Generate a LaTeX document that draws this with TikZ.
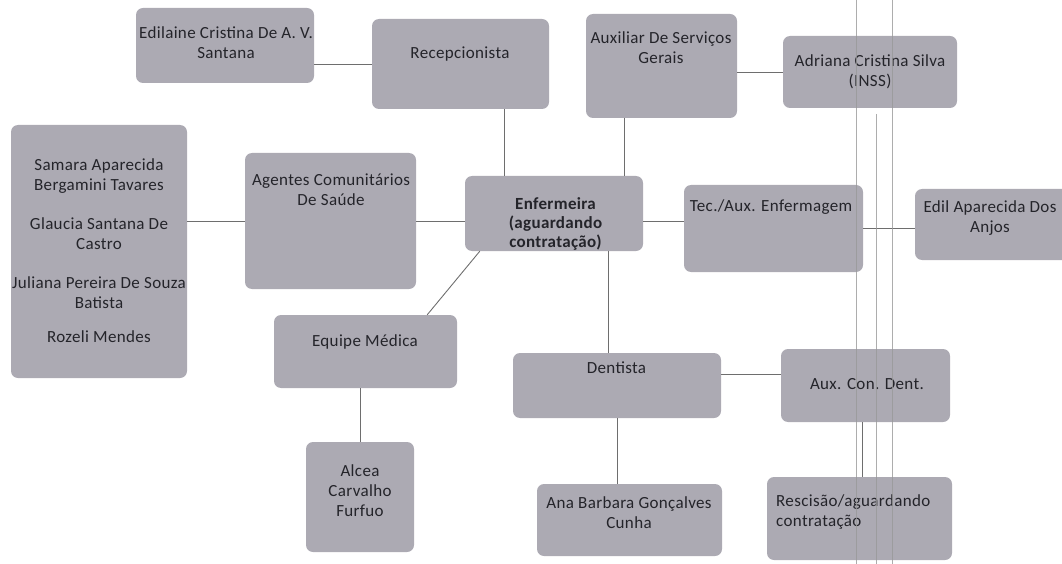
\documentclass[tikz,border=0pt]{standalone}
\usepackage{fontspec}
\setmainfont{Carlito}[LetterSpace=2]
\definecolor{boxgray}{RGB}{172,170,179}
\definecolor{txtgray}{RGB}{36,36,42}
\definecolor{linegray}{RGB}{110,110,110}
\begin{document}
\begin{tikzpicture}[x=1pt,y=-1pt,
  box/.style={rectangle, rounded corners=7pt, fill=boxgray, inner sep=0pt},
  txt/.style={font=\fontsize{17}{20}\selectfont, text=txtgray, align=center, inner sep=0pt},
  link/.style={draw=linegray, line width=0.9pt},
  scanline/.style={draw=gray!80, line width=0.8pt, opacity=0.8}]
\useasboundingbox (0,0) rectangle (1062,564);
	\node[box, minimum width=178pt, minimum height=75pt] (edi) at (225,45.5) {};
	\node[box, minimum width=177pt, minimum height=90pt] (rec) at (460.5,64) {};
	\node[box, minimum width=151pt, minimum height=104pt] (aux) at (661.5,66) {};
	\node[box, minimum width=174pt, minimum height=72pt] (adr) at (870,72) {};
	\node[box, minimum width=176pt, minimum height=253pt] (sam) at (99,251.5) {};
	\node[box, minimum width=171pt, minimum height=136pt] (age) at (330.5,221) {};
	\node[box, minimum width=178pt, minimum height=75pt] (enf) at (554,213.5) {};
	\node[box, minimum width=179pt, minimum height=87pt] (tec) at (773.5,228.5) {};
	\node[box, minimum width=165pt, minimum height=71pt] (edil) at (997.5,224.5) {};
	\node[box, minimum width=183pt, minimum height=73pt] (equ) at (365.5,351.5) {};
	\node[box, minimum width=108pt, minimum height=110pt] (alc) at (360,497) {};
	\node[box, minimum width=208pt, minimum height=65pt] (den) at (617,385.5) {};
	\node[box, minimum width=169pt, minimum height=73pt] (acd) at (865.5,385.5) {};
	\node[box, minimum width=185pt, minimum height=72pt] (ana) at (629.5,520) {};
	\node[box, minimum width=185pt, minimum height=83pt] (res) at (859.5,518.5) {};
	\node[txt] (ediT) at (226,43) {Edilaine Cristina De A. V.\\Santana};
	\node[txt] (recT) at (460,54) {Recepcionista};
	\node[txt] (auxT) at (661,48) {Auxiliar De Serviços\\Gerais};
	\node[txt] (adrT) at (870,72) {Adriana Cristina Silva\\(INSS)};
	\node[txt] (samT) at (99,251) {Samara Aparecida\\Bergamini Tavares\\[19pt]Glaucia Santana De\\Castro\\[19pt]Juliana Pereira De Souza\\Batista\\[14pt]Rozeli Mendes};
	\node[txt] (ageT) at (331,189.5) {Agentes Comunitários\\De Saúde};
	\node[txt, font=\fontsize{17}{19}\selectfont\bfseries] (enfT) at (555.5,224) {Enfermeira\\(aguardando\\contratação)};
	\node[txt] (tecT) at (771,207) {Tec./Aux. Enfermagem};
	\node[txt] (edilT) at (990,218) {Edil Aparecida Dos\\Anjos};
	\node[txt] (equT) at (365,342) {Equipe Médica};
	\node[txt] (alcT) at (360,491) {Alcea\\Carvalho\\Furfuo};
	\node[txt] (denT) at (616.5,368) {Dentista};
	\node[txt] (acdT) at (867,384) {Aux. Con. Dent.};
	\node[txt] (anaT) at (629,512.5) {Ana Barbara Gonçalves\\Cunha};
	\node[txt, anchor=west, align=left] (resT) at (776,512.5) {Rescisão/aguardando\\contratação};
	\draw[link] (rec.west) -- (rec.west -| edi.east);
	\draw[link] ([xshift=-50]enf.north) -- ([xshift=-50]enf.north |- rec.south);
	\draw[link] ([xshift=70]enf.north) -- ([xshift=70]enf.north |- aux.south);
	\draw[link] (adr.west) -- (adr.west -| aux.east);
	\draw[link] (age.west) -- (age.west -| sam.east);
	\draw[link] (age.east) -- (age.east -| enf.west);
	\draw[link] ([yshift=-7.5]enf.east) -- ([yshift=-7.5]enf.east -| tec.west);
	\draw[link] (tec.east) -- (tec.east -| edil.west);
	\draw[link] ([xshift=54]enf.south) -- ([xshift=54]enf.south |- den.north);
	\draw[link] ([xshift=15]enf.south west) -- ([xshift=-30]equ.north east);
	\draw[link] (alc.north) -- (alc.north |- equ.south);
	\draw[link] ([yshift=11.5]den.east) -- ([yshift=11.5]den.east -| acd.west);
	\draw[link] (den.south) -- (den.south |- ana.north);
	\draw[link] ([xshift=-3.5]acd.south) -- ([xshift=-3.5]acd.south |- res.north);
	\draw[scanline] (856,0) -- (856,564);
	\draw[scanline] (892,0) -- (892,564);
	\draw[scanline] (876,114) -- (876,564);
\end{tikzpicture}
\end{document}
